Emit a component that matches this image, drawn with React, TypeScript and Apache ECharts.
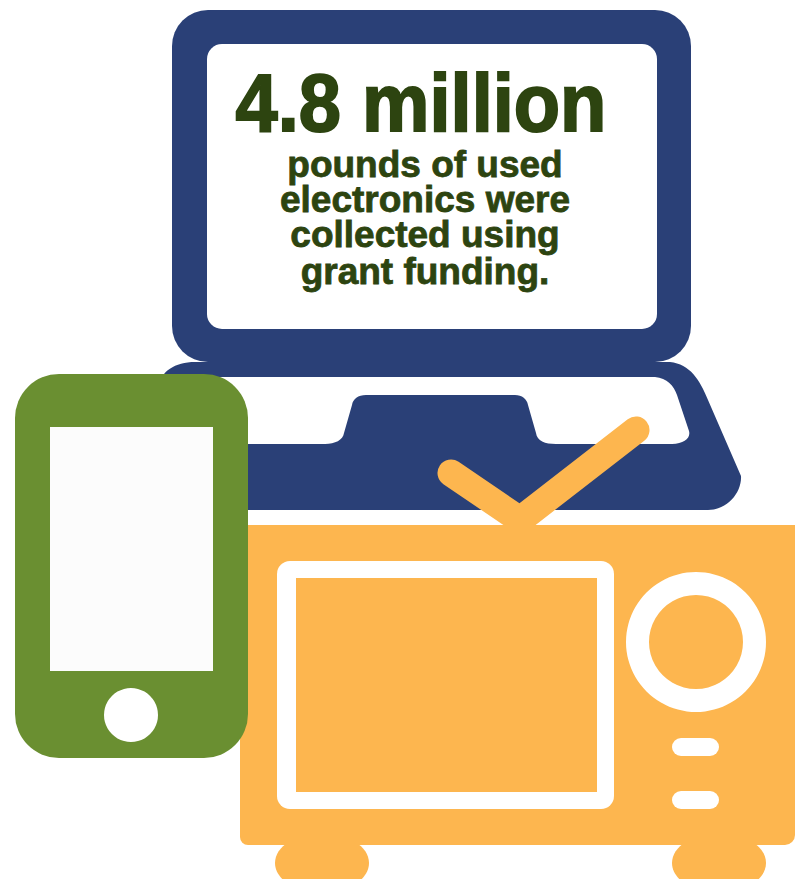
import React, { useEffect, useRef } from "react";
import * as echarts from "echarts";

const headline = "4.8 million";
const bodyLines = ["pounds of used", "electronics were", "collected using", "grant funding."];
const bodyCentres = [164, 199, 234, 271];

const BLUE = "#2A4077";
const ORANGE = "#FDB64F";
const GREEN = "#6A8F31";
const DARK = "#2D4410";
const FONT = '"Liberation Sans", Arial, sans-serif';

const basePath =
  "M195 362 L670 362 C690 364 700 380 708 400 L741 476 C742 492 728 510 708 510 L190 510 C170 510 160 500 160 480 L160 385 C160 372 175 362 195 362 Z";
const keysPath =
  "M180 377 L655 377 C667 378 674 386 677 395 L689 431 C691 438 684 444 672 444 L556 444 C545 444 537 441 536 433 L528 405 C527 399 522 395 515 395 L366 395 C358 395 353 399 352 405 L344 433 C343 440 335 444 325 444 L180 444 Z";

echarts.graphic.registerShape("laptopBase", echarts.graphic.extendPath(basePath, {}));
echarts.graphic.registerShape("laptopKeys", echarts.graphic.extendPath(keysPath, {}));

const rr = (x: number, y: number, w: number, h: number, r: number | number[], fill: string) => ({
  type: "rect",
  shape: { x, y, width: w, height: h, r },
  style: { fill },
});

export default function App() {
  const ref = useRef<HTMLDivElement>(null);
  useEffect(() => {
    const chart = echarts.init(ref.current!, undefined, { renderer: "svg" });
    const elements: any[] = [
      // laptop
      { type: "laptopBase", x: 0, y: 0, style: { fill: BLUE } },
      { type: "laptopKeys", x: 0, y: 0, style: { fill: "#FFFFFF" } },
      rr(172, 10, 519, 352, 36, BLUE),
      rr(207, 44, 450, 285, 15, "#FFFFFF"),
      // antenna
      {
        type: "polyline",
        shape: { points: [[451, 473], [520, 520], [636, 430]] },
        style: { stroke: ORANGE, lineWidth: 27, fill: "none", lineCap: "round", lineJoin: "miter" },
      },
      // tv
      { type: "ellipse", shape: { cx: 322, cy: 863, rx: 47, ry: 30 }, style: { fill: ORANGE } },
      { type: "ellipse", shape: { cx: 719, cy: 863, rx: 47, ry: 30 }, style: { fill: ORANGE } },
      rr(240, 525, 555, 320, [8, 0, 10, 8], ORANGE),
      rr(277, 561, 337, 248, 13, "#FFFFFF"),
      rr(296, 578, 301, 214, 0, ORANGE),
      { type: "circle", shape: { cx: 696, cy: 642, r: 70 }, style: { fill: "#FFFFFF" } },
      { type: "circle", shape: { cx: 696, cy: 642, r: 47 }, style: { fill: ORANGE } },
      rr(672, 738, 47, 18, 9, "#FFFFFF"),
      rr(672, 791, 47, 18, 9, "#FFFFFF"),
      // phone
      rr(15, 374, 233, 384, 44, GREEN),
      rr(50, 427, 163, 244, 0, "#FCFCFC"),
      { type: "circle", shape: { cx: 131, cy: 715, r: 27 }, style: { fill: "#FFFFFF" } },
      // text
      {
        type: "text",
        x: 421,
        y: 103,
        scaleX: 0.925,
        style: {
          text: headline,
          font: `bold 82px ${FONT}`,
          fill: DARK,
          stroke: DARK,
          lineWidth: 2,
          textAlign: "center",
          textVerticalAlign: "middle",
        },
      },
      ...bodyLines.map((t, i) => ({
        type: "text",
        x: 425,
        y: bodyCentres[i],
        style: {
          text: t,
          font: `bold 37px ${FONT}`,
          lineHeight: 30,
          fill: DARK,
          stroke: DARK,
          lineWidth: 0.8,
          textAlign: "center",
          textVerticalAlign: "middle",
        },
      })),
    ];
    chart.setOption({ animation: false, backgroundColor: "#FFFFFF", graphic: { elements } });
    return () => chart.dispose();
  }, []);
  return (
    <div
      ref={ref}
      style={{ position: "absolute", left: 0, top: 0, width: 795, height: 879, overflow: "hidden" }}
    />
  );
}
